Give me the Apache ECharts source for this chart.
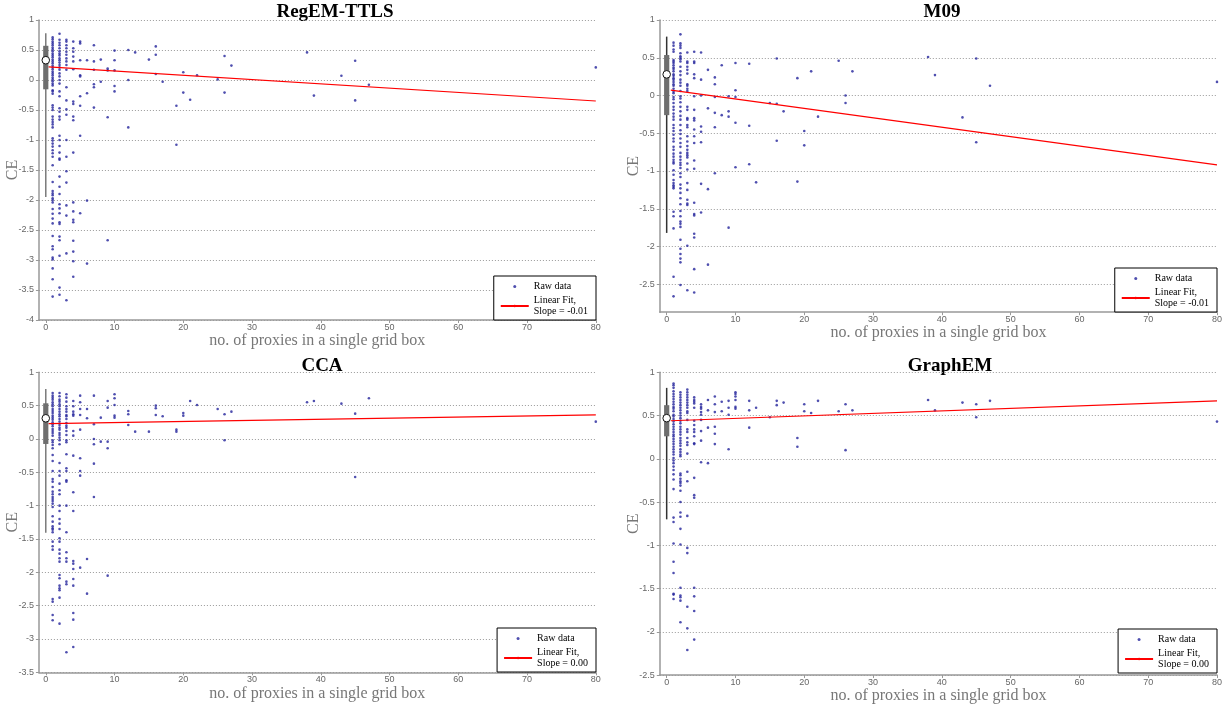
<!DOCTYPE html>
<html><head><meta charset="utf-8">
<script src="https://cdn.jsdelivr.net/npm/echarts@6/dist/echarts.min.js"></script>
<style>html,body{margin:0;padding:0;background:#fff}#c{width:1225px;height:708px}</style>
</head><body><div id="c"></div>
<script>
// ---------------- data ----------------
const panelTitles = ['RegEM-TTLS', 'M09', 'CCA', 'GraphEM'];
const fitNames = ['Linear Fit,\nSlope = -0.01', 'Linear Fit,\nSlope = -0.01', 'Linear Fit,\nSlope = 0.00', 'Linear Fit,\nSlope = 0.00'];
const xTickValues = [0, 10, 20, 30, 40, 50, 60, 70, 80];
const xRange = [-1, 80];
const yRanges = [[-4, 1], [-2.87, 1], [-3.5, 1], [-2.5, 1]];
const yTicks1 = [1, 0.5, 0, -0.5, -1, -1.5, -2, -2.5, -3, -3.5, -4];
const yTicks2 = [1, 0.5, 0, -0.5, -1, -1.5, -2, -2.5];
const yTicks3 = [1, 0.5, 0, -0.5, -1, -1.5, -2, -2.5, -3, -3.5];
const yTicks4 = [1, 0.5, 0, -0.5, -1, -1.5, -2, -2.5];

// box plot stats at x = 0: [min, Q1, median, Q3, max]
const boxStats = [
  [-1.95, -0.155, 0.33, 0.57, 0.78],
  [-1.82, -0.26, 0.28, 0.536, 0.78],
  [-1.405, -0.075, 0.31, 0.535, 0.75],
  [-0.70, 0.26, 0.47, 0.62, 0.82]
];

// linear fit end points
const fitX = [[0.4, 80], [0.6, 80], [0.4, 80], [0.6, 80]];
const fitY = [[0.22, -0.35], [0.07, -0.92], [0.23, 0.36], [0.44, 0.67]];

// raw data: [no. of proxies, [CE values...]]
const regemTTLS = [
  [1, [0.71,0.68,0.64,0.61,0.58,0.54,0.51,0.48,0.44,0.41,0.38,0.34,0.31,0.28,0.24,0.21,0.18,0.14,0.11,0.08,0.04,0.01,-0.02,-0.06,-0.09,-0.17,-0.19,-0.23,-0.42,-0.46,-0.5,-0.61,-0.66,-0.7,-0.74,-0.79,-0.97,-1.01,-1.06,-1.11,-1.17,-1.22,-1.28,-1.42,-1.70,-1.85,-1.89,-1.92,-1.97,-2.0,-2.04,-2.15,-2.23,-2.31,-2.39,-2.6,-2.77,-2.82,-2.96,-2.99,-3.14,-3.32,-3.61]],
  [2, [0.77,0.67,0.62,0.58,0.53,0.48,0.44,0.41,0.36,0.33,0.29,0.25,0.21,0.17,0.11,0.06,0.0,-0.06,-0.19,-0.27,-0.47,-0.53,-0.61,-0.66,-0.93,-1.0,-1.1,-1.21,-1.31,-1.33,-1.61,-1.78,-1.9,-2.07,-2.14,-2.22,-2.37,-2.4,-2.61,-2.67,-2.93,-3.46,-3.58]],
  [3, [0.67,0.64,0.58,0.53,0.47,0.42,0.36,0.31,0.25,0.17,-0.12,-0.34,-0.49,-0.58,-1.0,-1.28,-1.52,-1.71,-2.09,-2.26,-2.89,-3.67]],
  [4, [0.64,0.53,0.47,0.39,0.31,0.18,-0.36,-0.4,-0.61,-0.67,-1.21,-2.04,-2.19,-2.33,-2.37,-2.68,-2.86,-3.02,-3.28]],
  [5, [0.64,0.61,0.33,0.08,0.06,-0.27,-0.43,-0.93,-2.22]],
  [6, [0.33,-0.22,-2.01,-3.06]],
  [7, [0.58,0.31,0.17,-0.07,-0.12,-0.46]],
  [8, [0.34,-0.03]],
  [9, [0.19,0.16,-0.62,-2.67]],
  [10, [0.49,0.33,0.16,-0.1,-0.19]],
  [12, [0.5,0.0,-0.79]],
  [13, [0.46]],
  [15, [0.34]],
  [16, [0.56,0.42,0.1]],
  [17, [-0.03]],
  [19, [-0.43,-1.08]],
  [20, [0.13,-0.21]],
  [21, [-0.33]],
  [22, [0.08]],
  [25, [0.01]],
  [26, [0.4,-0.21]],
  [27, [0.24]],
  [38, [0.46]],
  [39, [-0.26]],
  [43, [0.07]],
  [45, [0.32,-0.34]],
  [47, [-0.08]],
  [80, [0.21]]
];
const m09 = [
  [1, [0.7,0.66,0.61,0.58,0.47,0.45,0.43,0.4,0.37,0.35,0.32,0.28,0.26,0.23,0.21,0.18,0.15,0.13,0.09,0.05,0.03,-0.02,-0.05,-0.1,-0.15,-0.19,-0.24,-0.28,-0.32,-0.39,-0.43,-0.47,-0.52,-0.57,-0.61,-0.68,-0.72,-0.77,-0.81,-0.85,-0.88,-0.9,-0.99,-1.05,-1.12,-1.16,-1.19,-1.21,-1.23,-1.54,-1.6,-1.76,-2.4,-2.66]],
  [2, [0.81,0.69,0.66,0.63,0.56,0.52,0.5,0.48,0.45,0.38,0.32,0.27,0.21,0.17,0.13,0.06,-0.01,-0.04,-0.09,-0.15,-0.21,-0.27,-0.32,-0.39,-0.46,-0.51,-0.57,-0.63,-0.68,-0.76,-0.81,-0.85,-0.89,-0.92,-0.96,-1.03,-1.08,-1.18,-1.23,-1.29,-1.36,-1.44,-1.53,-1.6,-1.67,-1.7,-1.74,-1.91,-2.03,-2.1,-2.16,-2.21,-2.51]],
  [3, [0.57,0.45,0.43,0.38,0.34,0.29,0.15,0.13,0.09,0.06,-0.15,-0.19,-0.3,-0.32,-0.39,-0.42,-0.54,-0.61,-0.67,-0.72,-0.76,-0.79,-0.82,-0.9,-0.98,-1.16,-1.25,-1.38,-1.43,-1.45,-1.99,-2.58]],
  [4, [0.58,0.45,0.43,0.28,0.23,-0.01,-0.19,-0.3,-0.33,-0.45,-0.54,-0.63,-0.86,-0.97,-1.42,-1.57,-1.59,-1.83,-1.88,-2.3,-2.61]],
  [5, [0.57,0.21,0.0,-0.41,-0.48,-0.62,-1.17,-1.55]],
  [6, [0.34,-0.17,-1.24,-2.24]],
  [7, [0.24,0.15,-0.02,-0.23,-0.42,-1.03]],
  [8, [0.4,-0.26]],
  [9, [-0.01,-0.21,-0.28,-1.75]],
  [10, [0.43,0.07,-0.02,-0.36,-0.95]],
  [12, [0.42,-0.4,-0.91]],
  [13, [-1.15]],
  [15, [-0.1]],
  [16, [0.49,-0.11,-0.6]],
  [17, [-0.21]],
  [19, [0.23,-1.14]],
  [20, [-0.47,-0.66]],
  [21, [0.32]],
  [22, [-0.28]],
  [25, [0.46]],
  [26, [0.0,-0.1]],
  [27, [0.32]],
  [38, [0.51]],
  [39, [0.27]],
  [43, [-0.29]],
  [45, [0.49,-0.62]],
  [47, [0.13]],
  [80, [0.18]]
];
const cca = [
  [1, [0.69,0.65,0.62,0.59,0.55,0.52,0.49,0.45,0.42,0.39,0.35,0.32,0.29,0.25,0.22,0.19,0.15,0.12,0.09,0.05,-0.02,-0.05,-0.09,-0.14,-0.24,-0.33,-0.48,-0.6,-0.64,-0.72,-0.79,-0.83,-0.87,-0.9,-0.93,-0.97,-1.02,-1.16,-1.24,-1.31,-1.34,-1.36,-1.4,-1.54,-1.61,-1.66,-2.4,-2.44,-2.64,-2.72]],
  [2, [0.69,0.64,0.59,0.56,0.52,0.49,0.45,0.41,0.37,0.34,0.3,0.26,0.21,0.17,0.14,0.09,0.06,0.02,-0.02,-0.08,-0.36,-0.48,-0.55,-0.67,-0.77,-0.83,-1.0,-1.08,-1.2,-1.27,-1.35,-1.49,-1.54,-1.66,-1.72,-1.79,-1.84,-2.04,-2.09,-2.2,-2.24,-2.27,-2.38,-2.77]],
  [3, [0.67,0.62,0.56,0.49,0.45,0.41,0.36,0.34,0.3,0.24,0.2,0.17,0.12,0.06,-0.02,-0.05,-0.23,-0.44,-0.48,-0.62,-0.64,-1.0,-1.4,-1.7,-1.79,-1.84,-2.14,-2.18,-3.2]],
  [4, [0.57,0.49,0.41,0.37,0.35,0.12,0.05,-0.25,-0.8,-1.08,-1.83,-1.87,-1.95,-2.1,-2.2,-2.61,-2.71,-3.12]],
  [5, [0.65,0.55,0.45,0.36,0.14,-0.29,-0.48,-0.55,-1.93]],
  [6, [0.45,0.31,-1.8,-2.32]],
  [7, [0.65,0.22,0.0,-0.08,-0.37,-0.87]],
  [8, [0.32,-0.04]],
  [9, [0.57,0.47,-0.04,-0.14,-2.05]],
  [10, [0.67,0.61,0.51,0.35,0.32]],
  [12, [0.42,0.37,0.21]],
  [13, [0.11]],
  [15, [0.11]],
  [16, [0.5,0.46,0.36]],
  [17, [0.34]],
  [19, [0.14,0.11]],
  [20, [0.39,0.35]],
  [21, [0.57]],
  [22, [0.51]],
  [25, [0.45]],
  [26, [0.37,-0.02]],
  [27, [0.41]],
  [38, [0.55]],
  [39, [0.57]],
  [43, [0.53]],
  [45, [0.38,-0.57]],
  [47, [0.61]],
  [80, [0.26]]
];
const graphEM = [
  [1, [0.87,0.85,0.82,0.78,0.75,0.72,0.69,0.66,0.63,0.6,0.58,0.55,0.51,0.49,0.46,0.43,0.4,0.37,0.34,0.31,0.28,0.26,0.23,0.2,0.17,0.14,0.11,0.08,0.05,0.01,-0.02,-0.05,-0.09,-0.13,-0.18,-0.24,-0.35,-0.68,-0.73,-0.98,-1.19,-1.32,-1.56,-1.57,-1.62]],
  [2, [0.77,0.74,0.71,0.68,0.65,0.62,0.59,0.56,0.53,0.5,0.47,0.44,0.41,0.37,0.34,0.31,0.28,0.24,0.21,0.18,0.15,0.11,0.08,0.05,0.03,-0.17,-0.19,-0.23,-0.26,-0.28,-0.31,-0.37,-0.5,-0.62,-0.67,-0.81,-0.99,-1.49,-1.58,-1.6,-1.64,-1.89]],
  [3, [0.8,0.77,0.74,0.71,0.68,0.65,0.62,0.59,0.55,0.53,0.45,0.34,0.31,0.24,0.19,0.16,0.06,-0.15,-0.26,-0.66,-1.03,-1.09,-1.71,-1.96,-2.21]],
  [4, [0.71,0.68,0.66,0.64,0.59,0.44,0.39,0.34,0.31,0.26,0.18,0.17,-0.22,-0.42,-0.45,-1.49,-1.59,-1.76,-2.09]],
  [5, [0.63,0.6,0.58,0.54,0.51,0.45,0.32,0.21,-0.04]],
  [6, [0.68,0.56,0.36,-0.05]],
  [7, [0.72,0.63,0.54,0.37,0.29,0.17]],
  [8, [0.66,0.55]],
  [9, [0.67,0.59,0.51,0.11]],
  [10, [0.77,0.75,0.72,0.68,0.6,0.58]],
  [12, [0.67,0.56,0.36]],
  [13, [0.59]],
  [15, [0.48]],
  [16, [0.67,0.62]],
  [17, [0.65]],
  [19, [0.24,0.14]],
  [20, [0.63,0.55]],
  [21, [0.53]],
  [22, [0.67]],
  [25, [0.55]],
  [26, [0.63,0.1]],
  [27, [0.56]],
  [38, [0.68]],
  [39, [0.56]],
  [43, [0.65]],
  [45, [0.63,0.48]],
  [47, [0.67]],
  [80, [0.43]]
];
const rawData = [regemTTLS, m09, cca, graphEM];
const yTicksAll = [yTicks1, yTicks2, yTicks3, yTicks4];

// ---------------- layout / style ----------------
const grids = [
  {left: 38.9, top: 20, width: 556.9, height: 300},
  {left: 659.8, top: 20, width: 557.3, height: 292.2},
  {left: 38.9, top: 372.3, width: 556.9, height: 300},
  {left: 659.8, top: 372.3, width: 557.3, height: 302.75}
];
const legendPos = [
  {right: 629, bottom: 388},
  {right: 8, bottom: 396},
  {right: 629, bottom: 36},
  {right: 8, bottom: 35}
];
const titlePos = [[335, 22], [942, 22], [322, 376], [950, 376]];
const whiskerColors = ['#7a7a7a', '#333333', '#7a7a7a', '#333333'];
const SERIF = "'Liberation Serif', 'Times New Roman', serif";
const SANS = "'Liberation Sans', Helvetica, Arial, sans-serif";

const chart = echarts.init(document.getElementById('c'), null, {renderer: 'canvas'});

const xAxes = [], yAxes = [], series = [], legends = [], graphics = [];
for (let i = 0; i < 4; i++) {
  xAxes.push({
    type: 'value', gridIndex: i, min: xRange[0], max: xRange[1],
    name: 'no. of proxies in a single grid box', nameLocation: 'middle', nameGap: 13,
    nameMoveOverlap: false,
    nameTextStyle: {fontFamily: SERIF, fontSize: 16, color: '#777'},
    axisLine: {onZero: false, lineStyle: {color: '#999', width: 1.5}},
    axisTick: {show: true, customValues: xTickValues, length: 3, lineStyle: {color: '#999'}},
    axisLabel: {customValues: xTickValues, fontFamily: SANS, fontSize: 9, color: '#666', margin: 3},
    splitLine: {show: false}
  });
  const yt = yTicksAll[i];
  yAxes.push({
    type: 'value', gridIndex: i, min: yRanges[i][0], max: yRanges[i][1],
    name: 'CE', nameLocation: 'middle', nameGap: 18,
    nameMoveOverlap: false,
    nameTextStyle: {fontFamily: SERIF, fontSize: 16, color: '#777'},
    axisLine: {show: true, onZero: false, lineStyle: {color: '#999', width: 1.5}},
    axisTick: {show: true, customValues: yt, length: 3, lineStyle: {color: '#999'}},
    axisLabel: {customValues: yt, fontFamily: SANS, fontSize: 9, color: '#666', margin: 5,
      formatter: v => String(Math.round(v * 10) / 10)},
    splitLine: {show: true, lineStyle: {color: '#999', type: [1, 2], width: 1}}
  });
  const pts = [];
  rawData[i].forEach(([x, ys]) => ys.forEach(y => pts.push([x, y])));
  series.push({
    type: 'scatter', name: 'Raw data', xAxisIndex: i, yAxisIndex: i,
    data: pts, symbol: 'circle', symbolSize: 2.6,
    itemStyle: {color: '#23239b'}, silent: true, z: 3
  });
  series.push({
    type: 'line', name: fitNames[i], xAxisIndex: i, yAxisIndex: i,
    data: fitX[i].map((x, k) => [x, fitY[i][k]]), symbol: 'none',
    lineStyle: {color: '#ff0000', width: 1.2}, itemStyle: {color: '#ff0000'},
    silent: true, z: 4
  });
  const wc = whiskerColors[i];
  series.push({
    type: 'custom', name: 'box' + i, xAxisIndex: i, yAxisIndex: i,
    data: [[0].concat(boxStats[i])], encode: {x: 0, y: [1, 2, 3, 4, 5]}, silent: true, z: 5,
    renderItem: (params, api) => {
      const x = api.value(0);
      const lo = api.coord([x, api.value(1)]);
      const q1 = api.coord([x, api.value(2)]);
      const md = api.coord([x, api.value(3)]);
      const q3 = api.coord([x, api.value(4)]);
      const hi = api.coord([x, api.value(5)]);
      return {type: 'group', children: [
        {type: 'line', shape: {x1: lo[0], y1: lo[1], x2: hi[0], y2: hi[1]}, style: {stroke: wc, lineWidth: 1.5}},
        {type: 'rect', shape: {x: q3[0] - 2.6, y: q3[1], width: 5.2, height: q1[1] - q3[1]}, style: {fill: '#6e6e6e'}},
        {type: 'circle', shape: {cx: md[0], cy: md[1], r: 3.8}, style: {fill: '#fff', stroke: '#111', lineWidth: 1}}
      ]};
    }
  });
  legends.push(Object.assign({
    show: true, orient: 'vertical', data: ['Raw data', fitNames[i]],
    backgroundColor: '#fff', borderColor: '#000', borderWidth: 1,
    padding: [5, 8, 3, 6], itemGap: 3, itemWidth: 28, itemHeight: 3,
    selectedMode: false,
    textStyle: {fontFamily: SERIF, fontSize: 10, color: '#000', lineHeight: 11}
  }, legendPos[i]));
  graphics.push({
    type: 'text', x: titlePos[i][0], y: titlePos[i][1], silent: true,
    style: {text: panelTitles[i], textAlign: 'center', textVerticalAlign: 'bottom',
      font: "bold 19px 'Liberation Serif', 'Times New Roman', serif", fill: '#000'}
  });
}

chart.setOption({
  animation: false,
  backgroundColor: '#fff',
  grid: grids.map(g => Object.assign({containLabel: false}, g)),
  xAxis: xAxes, yAxis: yAxes, series: series, legend: legends,
  graphic: graphics
});
</script></body></html>
